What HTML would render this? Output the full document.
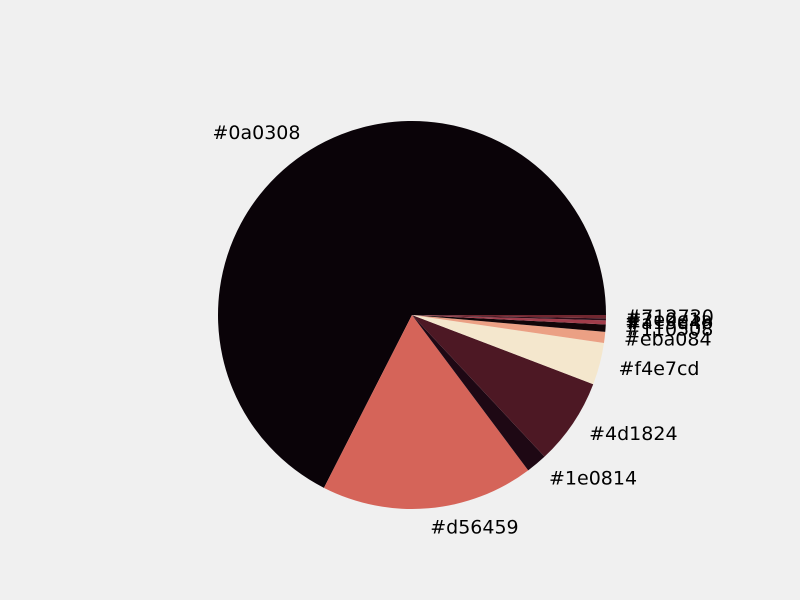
<!DOCTYPE html>
<html><head><meta charset="utf-8"><style>
body{margin:0;background:#f0f0f0;}
svg{display:block;}
text{font-family:"DejaVu Sans","Liberation Sans",sans-serif;font-size:19px;fill:#000;}
</style></head><body>
<svg id="chart" width="800" height="600" viewBox="0 0 800 600">
<rect width="800" height="600" fill="#f0f0f0"/>
<g id="slices"></g><g id="labels"></g>
</svg>
<script>
const labels = ["#0a0308","#d56459","#1e0814","#4d1824","#f4e7cd","#eba084","#110508","#a13d4b","#2e0e1a","#712730"];
const colors = ["#0a0308","#d56459","#1e0814","#4d1824","#f4e7cd","#eba084","#110508","#a13d4b","#2e0e1a","#712730"];
const values = [243, 63.8, 6.3, 26, 12.6, 3.3, 2.2, 1.2, 0.6, 1.0];

const cx=412, cy=315, R=194;
const total = values.reduce((a,b)=>a+b,0);
const ns="http://www.w3.org/2000/svg";
const gS=document.getElementById('slices'), gL=document.getElementById('labels');
let a0=0;
values.forEach((v,i)=>{
  const a1=a0+v/total*2*Math.PI;
  const x0=cx+R*Math.cos(a0), y0=cy-R*Math.sin(a0);
  const x1=cx+R*Math.cos(a1), y1=cy-R*Math.sin(a1);
  const large=(a1-a0)>Math.PI?1:0;
  const p=document.createElementNS(ns,'path');
  p.setAttribute('d',`M${cx},${cy} L${x0},${y0} A${R},${R} 0 ${large} 0 ${x1},${y1} Z`);
  p.setAttribute('fill',colors[i]);
  
  
  gS.appendChild(p);
  const am=(a0+a1)/2;
  const lx=cx+1.1*R*Math.cos(am), ly=cy-1.1*R*Math.sin(am);
  const t=document.createElementNS(ns,'text');
  t.setAttribute('x',lx); t.setAttribute('y',ly);
  t.setAttribute('dominant-baseline','central');
  t.setAttribute('text-anchor',Math.cos(am)>=0?'start':'end');
  t.textContent=labels[i];
  
  
  gL.appendChild(t);
  a0=a1;
});
</script>
</body></html>
